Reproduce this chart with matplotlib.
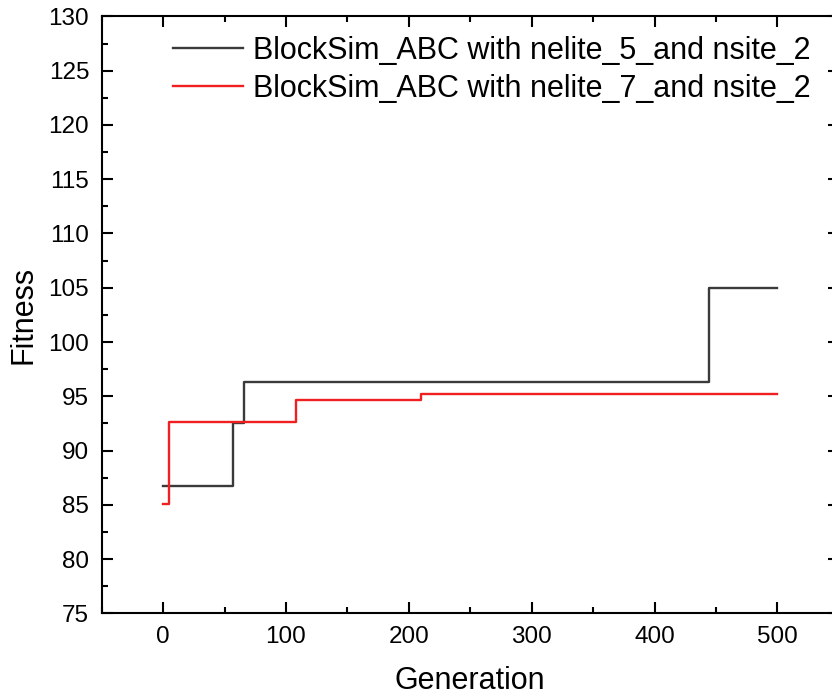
import numpy as np
import matplotlib
matplotlib.use("Agg")
import matplotlib.pyplot as plt
from matplotlib.ticker import MultipleLocator

plt.rcParams["font.family"] = ["Liberation Sans", "DejaVu Sans"]

# ====== Datos ======
# puntos de cambio (generación, fitness) de cada curva escalonada
gen_e5 = [0, 57, 66, 444, 500]
fit_e5 = [86.7, 92.5, 96.3, 105.0, 105.0]

gen_e7 = [0, 4.5, 108, 210, 500]
fit_e7 = [85.1, 92.6, 94.7, 95.2, 95.2]

LABEL_E5 = "BlockSim_ABC with nelite_5_and nsite_2"
LABEL_E7 = "BlockSim_ABC with nelite_7_and nsite_2"

fig = plt.figure(figsize=(8.32, 6.97), dpi=100)
ax = fig.add_axes([0.1222, 0.120, 0.886, 0.8565])

ax.step(gen_e5, fit_e5, where="post", color="#3a3a3a", lw=1.7, label=LABEL_E5)
ax.step(gen_e7, fit_e7, where="post", color="#f02020", lw=1.7, label=LABEL_E7)

ax.set_xlim(-50, 550)
ax.set_ylim(75, 130)
ax.xaxis.set_major_locator(MultipleLocator(100))
ax.xaxis.set_minor_locator(MultipleLocator(50))
ax.yaxis.set_major_locator(MultipleLocator(5))
ax.yaxis.set_minor_locator(MultipleLocator(2.5))
ax.tick_params(which="both", direction="in", top=True, right=True, width=1.5)
ax.tick_params(which="major", length=8, labelsize=17.5, pad=9)
ax.tick_params(which="minor", length=4.5)
for s in ax.spines.values():
    s.set_linewidth(1.5)

ax.set_xlabel("Generation", fontsize=22, labelpad=13)
ax.set_ylabel("Fitness", fontsize=22, labelpad=7)

ax.legend(loc="upper left", bbox_to_anchor=(0.0967, 0.967), frameon=False,
          fontsize=22, borderpad=0, borderaxespad=0, handlelength=2.28,
          handletextpad=0.33, labelspacing=0.25)

fig.savefig("out.png", dpi=100)
